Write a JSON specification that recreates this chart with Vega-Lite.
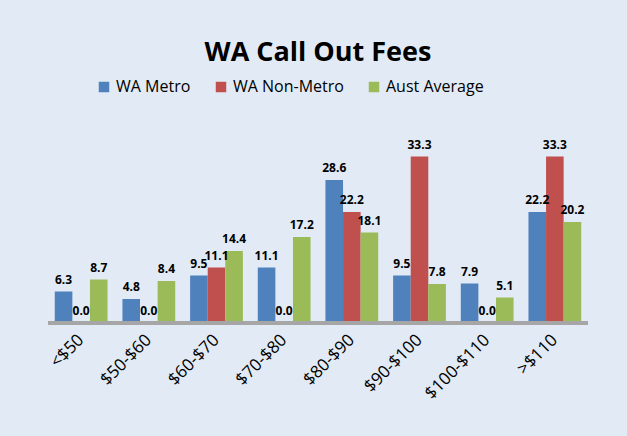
{
  "$schema": "https://vega.github.io/schema/vega-lite/v6.json",
  "width": 540,
  "height": 180,
  "autosize": {"type": "none"},
  "padding": {"left": 48, "top": 143, "right": 39, "bottom": 113},
  "background": "#e2ebf5",
  "title": {"text": "WA Call Out Fees", "fontSize": 27, "font": "Open Sans", "fontWeight": "bold", "color": "#000000", "offset": 12, "anchor": "middle"},
  "data": {"values": [
    {"cat": "<$50", "series": "WA Metro", "value": 6.3},
    {"cat": "<$50", "series": "WA Non-Metro", "value": 0.0},
    {"cat": "<$50", "series": "Aust Average", "value": 8.7},
    {"cat": "$50-$60", "series": "WA Metro", "value": 4.8},
    {"cat": "$50-$60", "series": "WA Non-Metro", "value": 0.0},
    {"cat": "$50-$60", "series": "Aust Average", "value": 8.4},
    {"cat": "$60-$70", "series": "WA Metro", "value": 9.5},
    {"cat": "$60-$70", "series": "WA Non-Metro", "value": 11.1},
    {"cat": "$60-$70", "series": "Aust Average", "value": 14.4},
    {"cat": "$70-$80", "series": "WA Metro", "value": 11.1},
    {"cat": "$70-$80", "series": "WA Non-Metro", "value": 0.0},
    {"cat": "$70-$80", "series": "Aust Average", "value": 17.2},
    {"cat": "$80-$90", "series": "WA Metro", "value": 28.6},
    {"cat": "$80-$90", "series": "WA Non-Metro", "value": 22.2},
    {"cat": "$80-$90", "series": "Aust Average", "value": 18.1},
    {"cat": "$90-$100", "series": "WA Metro", "value": 9.5},
    {"cat": "$90-$100", "series": "WA Non-Metro", "value": 33.3},
    {"cat": "$90-$100", "series": "Aust Average", "value": 7.8},
    {"cat": "$100-$110", "series": "WA Metro", "value": 7.9},
    {"cat": "$100-$110", "series": "WA Non-Metro", "value": 0.0},
    {"cat": "$100-$110", "series": "Aust Average", "value": 5.1},
    {"cat": ">$110", "series": "WA Metro", "value": 22.2},
    {"cat": ">$110", "series": "WA Non-Metro", "value": 33.3},
    {"cat": ">$110", "series": "Aust Average", "value": 20.2}
  ]},
  "encoding": {
    "x": {"field": "cat", "type": "nominal", "sort": null,
      "scale": {"paddingInner": 0.22, "paddingOuter": 0.1},
      "axis": {"title": null, "labelAngle": -45, "labelAlign": "right", "labelBaseline": "middle", "labelFontSize": 17, "labelFont": "Open Sans", "labelColor": "#000000", "ticks": false, "domain": false, "labelPadding": 14}},
    "xOffset": {"field": "series", "type": "nominal", "sort": ["WA Metro", "WA Non-Metro", "Aust Average"]},
    "y": {"field": "value", "type": "quantitative", "scale": {"domain": [0, 36]}, "axis": null}
  },
  "layer": [
    {"mark": {"type": "bar", "stroke": null},
     "encoding": {
       "color": {"field": "series", "type": "nominal", "sort": ["WA Metro", "WA Non-Metro", "Aust Average"],
         "scale": {"domain": ["WA Metro", "WA Non-Metro", "Aust Average"], "range": ["#4f81bd", "#c0504d", "#9bbb59"]},
         "legend": {"title": null, "orient": "none", "direction": "horizontal", "legendX": 48, "legendY": -64, "symbolType": "square", "symbolSize": 110, "labelFontSize": 16, "labelFont": "Open Sans", "labelColor": "#000000", "columnPadding": 22, "symbolOpacity": 1}}
     }},
    {"mark": {"type": "rule", "color": "#a6a6a6", "strokeWidth": 3},
     "encoding": {"y": {"datum": 0}, "x": null, "xOffset": null}},
    {"mark": {"type": "text", "dy": -12, "fontWeight": "bold", "fontSize": 12, "font": "Open Sans", "color": "#000000"},
     "encoding": {"text": {"field": "value", "type": "quantitative", "format": ".1f"}}}
  ],
  "config": {"view": {"stroke": null}}
}
